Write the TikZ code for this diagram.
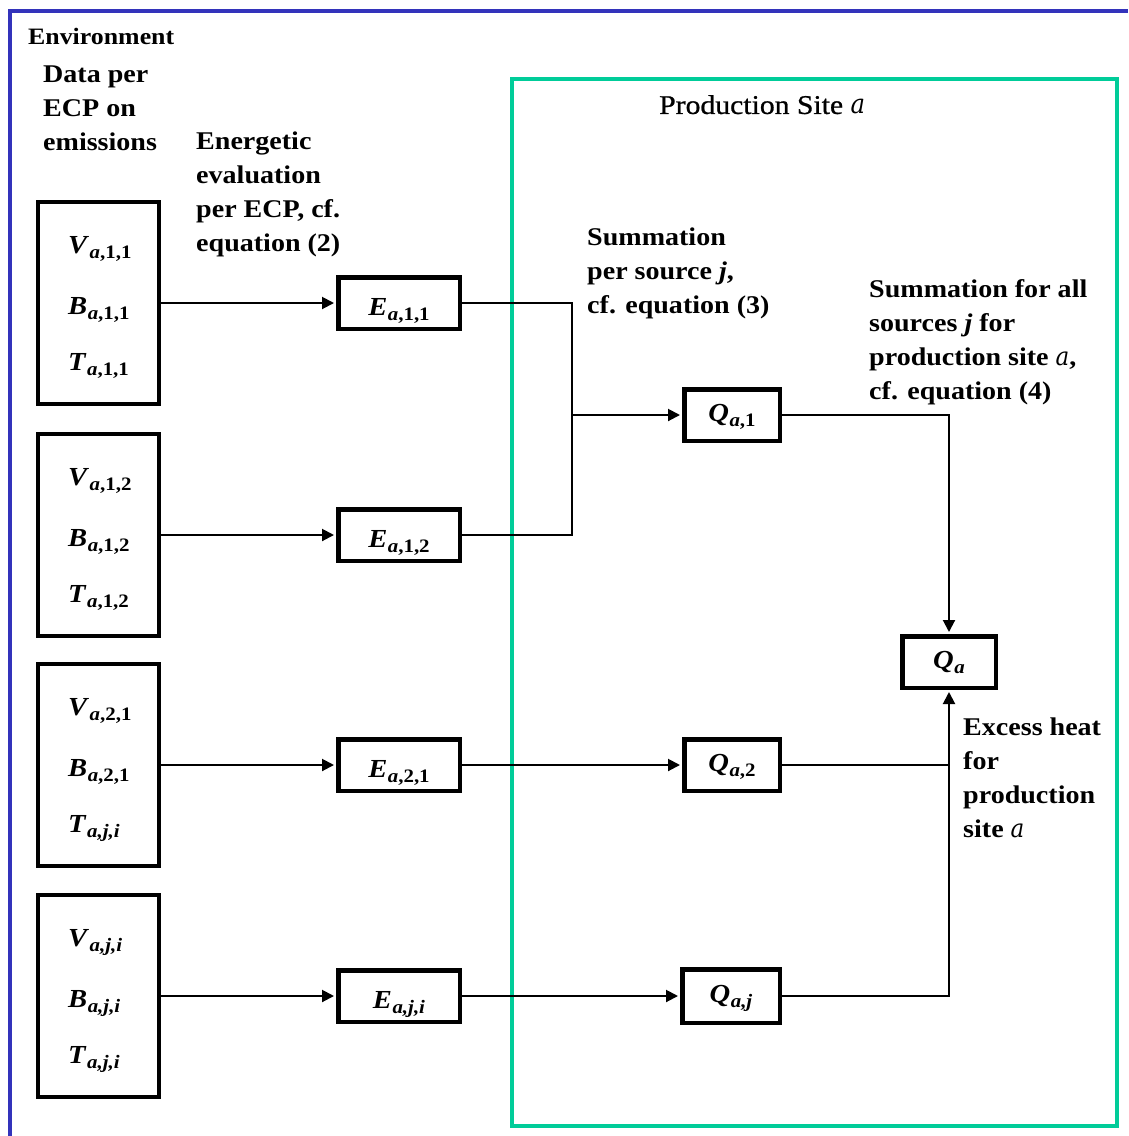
\documentclass[tikz,border=0pt]{standalone}
\usepackage{amsmath}
\usepackage{fontspec}
\setmainfont{Liberation Serif}[FakeStretch=1.1]
\newfontfamily\camfont{DejaVu Serif}[FakeStretch=0.9]
\newfontfamily\sitefont{Liberation Serif}[FakeStretch=1.1,FakeBold=0.8]
\usetikzlibrary{arrows.meta}
\definecolor{envblue}{RGB}{51,51,187}
\definecolor{sitegreen}{RGB}{0,204,153}
\newcommand\mvar[2]{\textbf{\textit{#1}}\kern0.5pt\raisebox{-5pt}{\fontsize{19}{20}\selectfont\bfseries #2}}
\newcommand\ita{{\camfont\mdseries\itshape a}}
\begin{document}
\begin{tikzpicture}[x=1pt,y=-1pt,
  box/.style={draw,line width=4.5pt,inner sep=0pt},
  conn/.style={line width=2pt},
  arr/.style={conn,-{Triangle[length=12pt,width=12pt]},shorten >=2pt},
  lbl/.style={font=\fontsize{25.5}{34}\selectfont\bfseries,align=left,inner sep=0pt,anchor=north west},
  mth/.style={font=\fontsize{26}{28}\selectfont,inner sep=0pt,anchor=base west},
  srcbox/.style={box,minimum width=121pt,minimum height=202pt},
  ebox/.style={box,font=\fontsize{26}{28}\selectfont,minimum width=121.5pt,minimum height=51.5pt,text height=24pt,text depth=0pt},
  qbox/.style={box,font=\fontsize{26}{28}\selectfont,minimum width=95.5pt,minimum height=51.5pt,text height=15pt,text depth=2pt}]
\useasboundingbox (0,0) rectangle (1128,1136);
% frames
\draw[envblue,line width=4pt] (10,1136) -- (10,11) -- (1128,11);
\draw[sitegreen,line width=4.5pt] (512,79) rectangle (1117,1126);
% labels
\node[lbl,font=\fontsize{23.5}{28}\selectfont\bfseries] (env) at (28,28) {Environment};
\node[lbl] (data) at (43,66) {Data per\\ECP on\\emissions};
\node[lbl] (energ) at (196,132) {Energetic\\evaluation\\per ECP, cf.\\equation (2)};
\node[inner sep=0pt,anchor=north west,font=\fontsize{27}{32}\selectfont\sitefont] (site) at (659,95) {Production Site {\camfont\itshape a}};
\node[lbl] (sum1) at (587,228) {Summation\\per source \textit{j},\\cf. equation (3)};
\node[lbl] (sum2) at (869,279) {Summation for all\\sources \textit{j} for\\production site \ita,\\cf. equation (4)};
\node[lbl] (excess) at (963,718) {Excess heat\\for\\production\\site \ita};
% source boxes
\node[srcbox] (L1) at (98.5,303) {};
\node[mth] (V1) at (68,253) {\mvar{V}{\textit{a},1,1}};
\node[mth] (B1) at (68,314) {\mvar{B}{\textit{a},1,1}};
\node[mth] (T1) at (68,370) {\mvar{T}{\textit{a},1,1}};
\node[srcbox] (L2) at (98.5,535) {};
\node[mth] (V2) at (68,485) {\mvar{V}{\textit{a},1,2}};
\node[mth] (B2) at (68,546) {\mvar{B}{\textit{a},1,2}};
\node[mth] (T2) at (68,602) {\mvar{T}{\textit{a},1,2}};
\node[srcbox] (L3) at (98.5,765) {};
\node[mth] (V3) at (68,715) {\mvar{V}{\textit{a},2,1}};
\node[mth] (B3) at (68,776) {\mvar{B}{\textit{a},2,1}};
\node[mth] (T3) at (68,832) {\mvar{T}{\textit{a,j,i}}};
\node[srcbox] (L4) at (98.5,996) {};
\node[mth] (V4) at (68,946) {\mvar{V}{\textit{a,j,i}}};
\node[mth] (B4) at (68,1007) {\mvar{B}{\textit{a,j,i}}};
\node[mth] (T4) at (68,1063) {\mvar{T}{\textit{a,j,i}}};
% E boxes
\node[ebox] (E1) at (399,303) {\mvar{E}{\textit{a},1,1}};
\node[ebox] (E2) at (399,535) {\mvar{E}{\textit{a},1,2}};
\node[ebox] (E3) at (399,765) {\mvar{E}{\textit{a},2,1}};
\node[ebox] (E4) at (399,996) {\mvar{E}{\textit{a,j,i}}};
% Q boxes
\node[qbox] (Q1) at (732,415) {\mvar{Q}{\textit{a},1}};
\node[qbox] (Q2) at (732,765) {\mvar{Q}{\textit{a},2}};
\node[qbox,minimum width=97.5pt,minimum height=53.5pt] (Qj) at (731,996) {\mvar{Q}{\textit{a,j}}};
\node[qbox,minimum width=93.5pt] (Qa) at (949,662) {\mvar{Q}{\textit{a}}};
% connectors
\draw[arr] (L1.east) -- (E1.west);
\draw[arr] (L2.east) -- (E2.west);
\draw[arr] (L3.east) -- (E3.west);
\draw[arr] (L4.east) -- (E4.west);
\coordinate (J) at (572,415);
\draw[conn] (E1.east) -| (J) |- (E2.east);
\draw[arr] (J) -- (Q1.west);
\draw[arr] (E3.east) -- (Q2.west);
\draw[arr] (E4.east) -- (Qj.west);
\draw[arr] (Q1.east) -| (Qa.north);
\draw[conn] (Q2.east) -- (Qa.south |- Q2.east);
\draw[arr] (Qj.east) -| (Qa.south);
\end{tikzpicture}
\end{document}
